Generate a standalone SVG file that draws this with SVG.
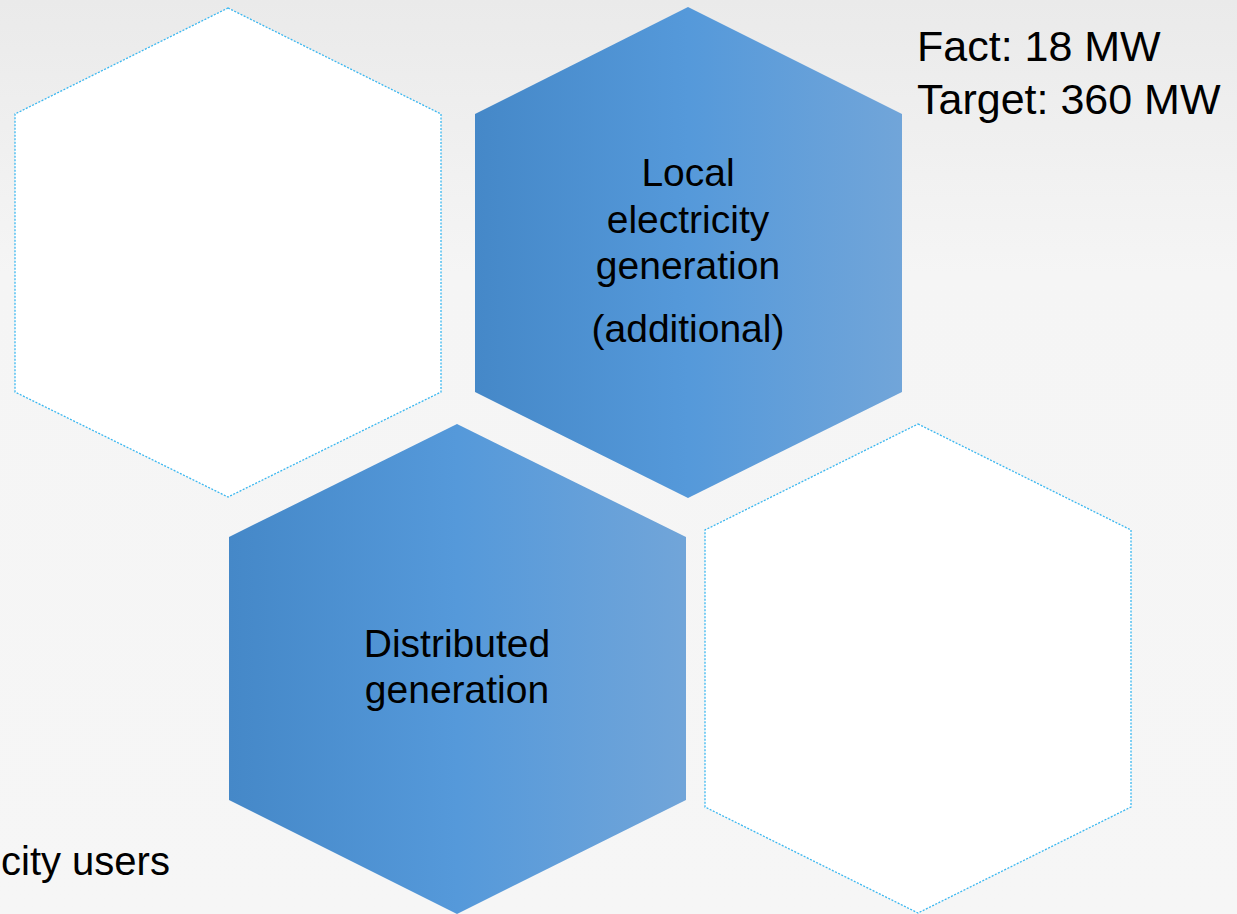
<svg xmlns="http://www.w3.org/2000/svg" width="1237" height="914" viewBox="0 0 1237 914">
  <defs>
    <linearGradient id="bg" x1="0" y1="0" x2="0" y2="1">
      <stop offset="0" stop-color="#eaeaea"/>
      <stop offset="0.3" stop-color="#f5f5f5"/>
      <stop offset="1" stop-color="#f6f6f6"/>
    </linearGradient>
    <linearGradient id="blue" x1="0" y1="0" x2="1" y2="0">
      <stop offset="0" stop-color="#4588c8"/>
      <stop offset="0.5" stop-color="#5599da"/>
      <stop offset="1" stop-color="#71a5d9"/>
    </linearGradient>
  </defs>
  <style>
    .white { fill: #ffffff; stroke: #3ab7f0; stroke-width: 1.3; stroke-dasharray: 2 1.5; }
    .blue { fill: url(#blue); stroke: none; }
    .lbl { font-family: "Liberation Sans", Arial, sans-serif; font-size: 39px; fill: #000000; text-anchor: middle; }
    .side { font-family: "Liberation Sans", Arial, sans-serif; font-size: 43px; fill: #000000; }
    .users { font-family: "Liberation Sans", Arial, sans-serif; font-size: 40px; fill: #000000; }
  </style>
  <rect x="0" y="0" width="1237" height="914" fill="url(#bg)"/>

  <g id="hex-top-left">
    <polygon class="white" points="228,8 441,114 441,392 228,497 15,392 15,114"/>
  </g>

  <g id="hex-local-generation">
    <polygon class="blue" points="688,7 902,114 902,392 688,498 475,392 475,114"/>
    <text class="lbl" x="688" y="186">Local</text>
    <text class="lbl" x="688" y="233">electricity</text>
    <text class="lbl" x="688" y="279">generation</text>
    <text class="lbl" x="688" y="342">(additional)</text>
  </g>

  <g id="hex-distributed-generation">
    <polygon class="blue" points="457,424 686,537 686,800 457,914 229,800 229,537"/>
    <text class="lbl" x="457" y="657">Distributed</text>
    <text class="lbl" x="457" y="703">generation</text>
  </g>

  <g id="hex-bottom-right">
    <polygon class="white" points="918,424 1131,530 1131,807 918,913 705,807 705,530"/>
  </g>

  <g id="facts">
    <text class="side" x="917" y="61">Fact: 18 MW</text>
    <text class="side" x="917" y="114">Target: 360 MW</text>
  </g>

  <g id="users-label">
    <text class="users" x="1" y="875">city users</text>
  </g>

  <g id="connectors"></g>
</svg>
